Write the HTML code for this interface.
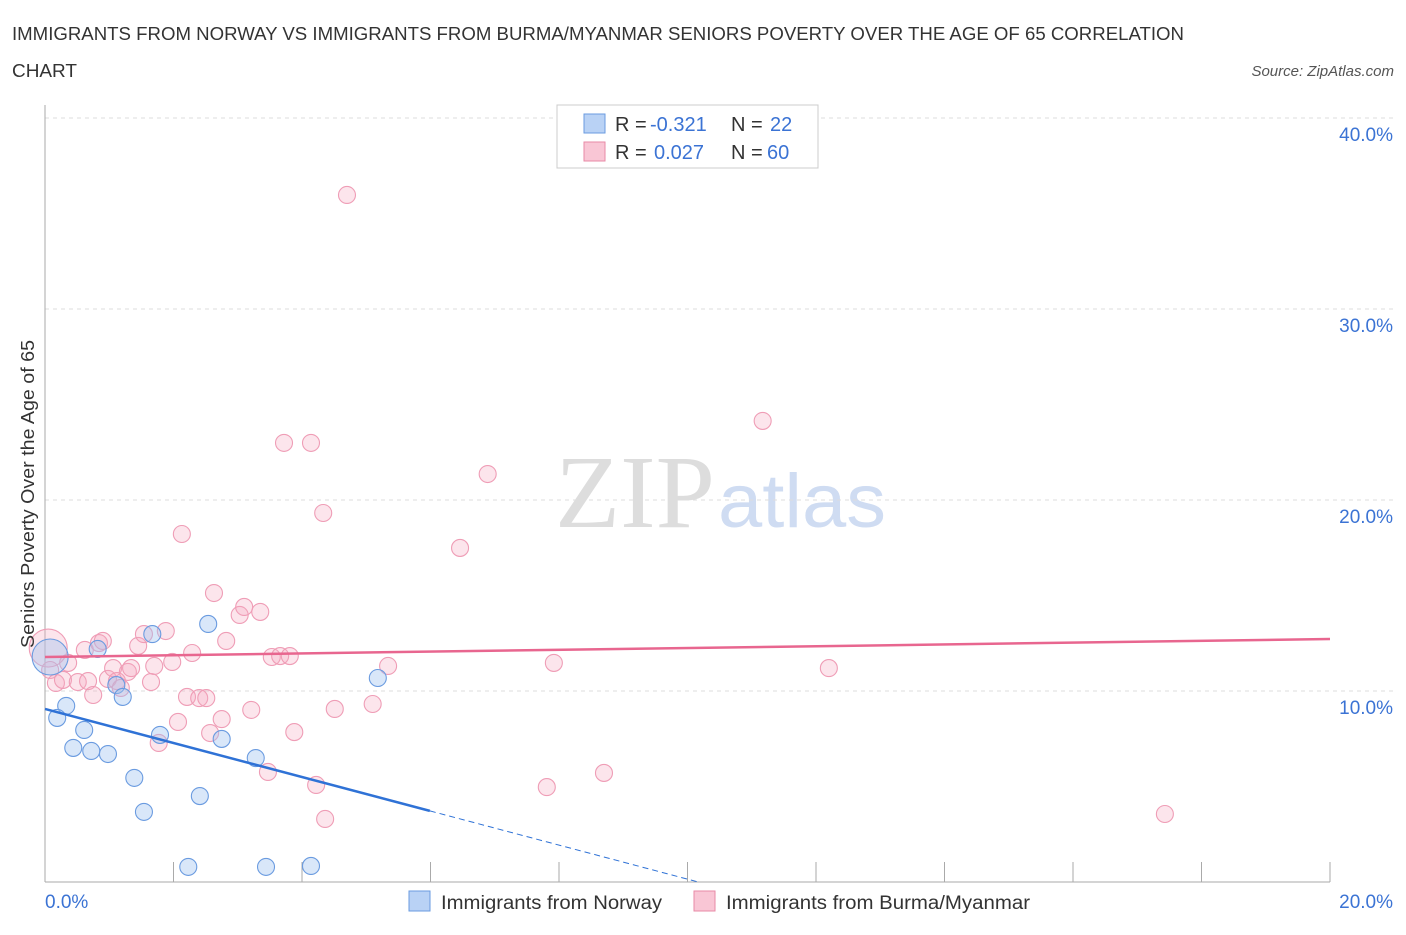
<!DOCTYPE html>
<html><head><meta charset="utf-8"><style>
body{margin:0;background:#fff;font-family:"Liberation Sans",sans-serif;}
</style></head><body>
<svg width="1406" height="930" xmlns="http://www.w3.org/2000/svg" style="font-family:'Liberation Sans',sans-serif">
<text x="12" y="40" font-size="18" fill="#333" textLength="1172" lengthAdjust="spacingAndGlyphs">IMMIGRANTS FROM NORWAY VS IMMIGRANTS FROM BURMA/MYANMAR SENIORS POVERTY OVER THE AGE OF 65 CORRELATION</text>
<text x="12" y="77" font-size="18" fill="#333" textLength="65" lengthAdjust="spacingAndGlyphs">CHART</text>
<text x="1394" y="76" font-size="15" fill="#555" font-style="italic" text-anchor="end">Source: ZipAtlas.com</text>
<g>
<text x="555" y="527" font-size="104" fill="#ddd" font-family="Liberation Serif" textLength="160" lengthAdjust="spacingAndGlyphs">ZIP</text>
<text x="718" y="527" font-size="76" fill="#cfdcf2" textLength="168" lengthAdjust="spacingAndGlyphs">atlas</text>
</g>
<g id="grid"></g>
<g id="axes"></g>
<g id="marks"></g>
<text transform="translate(34,494) rotate(-90)" font-size="18" fill="#333" text-anchor="middle" textLength="308" lengthAdjust="spacingAndGlyphs">Seniors Poverty Over the Age of 65</text>
<text x="45" y="908" font-size="19" fill="#3b73d4">0.0%</text>
<text x="1393" y="908" font-size="19" fill="#3b73d4" text-anchor="end">20.0%</text>
<g>
<rect x="557" y="105" width="261" height="63" fill="#fff" stroke="#ccc"/>
<rect x="584" y="114" width="21" height="19" fill="#b9d2f5" stroke="#6a9be0"/>
<rect x="584" y="142" width="21" height="19" fill="#f9c6d5" stroke="#e88aa6"/>
<text x="615" y="131" font-size="20" fill="#333">R =</text>
<text x="650" y="131" font-size="20" fill="#3b73d4">-0.321</text>
<text x="731" y="131" font-size="20" fill="#333">N =</text>
<text x="770" y="131" font-size="20" fill="#3b73d4">22</text>
<text x="615" y="159" font-size="20" fill="#333">R =</text>
<text x="654" y="159" font-size="20" fill="#3b73d4">0.027</text>
<text x="731" y="159" font-size="20" fill="#333">N =</text>
<text x="767" y="159" font-size="20" fill="#3b73d4">60</text>
</g>
<g>
<rect x="409" y="891" width="21" height="20" fill="#b9d2f5" stroke="#6a9be0"/>
<text x="441" y="909" font-size="19" fill="#333" textLength="221" lengthAdjust="spacingAndGlyphs">Immigrants from Norway</text>
<rect x="694" y="891" width="21" height="20" fill="#f9c6d5" stroke="#e88aa6"/>
<text x="726" y="909" font-size="19" fill="#333" textLength="304" lengthAdjust="spacingAndGlyphs">Immigrants from Burma/Myanmar</text>
</g>
</svg>
<script>
const yTicks=[10,20,30,40];
const yTickLabels=["10.0%","20.0%","30.0%","40.0%"];
const xTicks=[2,4,6,8,10,12,14,16,18,20];
const norwayX=[0.33,0.19,0.44,0.61,0.72,0.98,0.82,1.11,1.21,1.39,1.54,1.67,1.79,2.23,2.41,2.54,2.75,3.28,3.44,4.14,5.18];
const norwayY=[9.22,8.59,7.02,7.96,6.86,6.70,12.20,10.31,9.69,5.45,3.67,12.98,7.70,0.79,4.50,13.51,7.49,6.49,0.79,0.84,10.68];
const burmaX=[0.08,0.17,0.28,0.36,0.51,0.62,0.67,0.75,0.84,0.90,0.98,1.06,1.12,1.18,1.29,1.34,1.45,1.54,1.65,1.70,1.77,1.88,1.98,2.07,2.13,2.21,2.29,2.40,2.51,2.57,2.63,2.75,2.82,3.03,3.10,3.21,3.35,3.47,3.53,3.66,3.72,3.81,3.88,4.14,4.22,4.33,4.36,4.51,4.70,5.10,5.34,6.46,6.89,7.81,7.92,8.70,11.17,12.20,17.43];
const burmaY=[11.10,10.42,10.58,11.47,10.47,12.15,10.52,9.79,12.51,12.62,10.63,11.20,10.52,10.16,11.00,11.20,12.36,12.98,10.47,11.31,7.28,13.14,11.52,8.38,18.22,9.69,11.99,9.63,9.63,7.80,15.13,8.53,12.62,13.98,14.40,9.01,14.14,5.76,11.78,11.83,22.99,11.83,7.85,22.99,5.08,19.32,3.30,9.06,35.97,9.32,11.31,17.49,21.36,4.97,11.47,5.71,24.14,11.20,3.56];
const bigNorway=[0.08,11.78];
const bigBurma=[0.05,12.25];
const norwayTrend=[9.06,-0.891];
const burmaTrend=[11.78,0.047];
const NS="http://www.w3.org/2000/svg";
const X=v=>45+v*64.25, Y=v=>882-v*19.1;
function mk(t,a,p){const e=document.createElementNS(NS,t);for(const k in a)e.setAttribute(k,a[k]);p.appendChild(e);return e;}
const grid=document.getElementById('grid'),axes=document.getElementById('axes'),marks=document.getElementById('marks');
yTicks.forEach((t,i)=>{
 const l=mk('line',{x1:45,x2:1393,y1:Y(t),y2:Y(t),stroke:'#ddd','stroke-dasharray':'4,4'},grid);
 
 
 const tx=mk('text',{x:1393,y:Y(t)+23,'font-size':19,fill:'#3b73d4','text-anchor':'end'},grid);
 tx.textContent=yTickLabels[i];
 
 
});
const ax=mk('line',{x1:45,x2:45,y1:105,y2:882,stroke:'#aaa'},axes);


const bx=mk('line',{x1:45,x2:1330,y1:882,y2:882,stroke:'#aaa'},axes);


xTicks.forEach(t=>{const l=mk('line',{x1:X(t),x2:X(t),y1:862,y2:882,stroke:'#aaa'},axes);
 
 });
function dot(x,y,r,c,name){const d=mk('circle',{cx:X(x),cy:Y(y),r:r,fill:c[0],stroke:c[1],'stroke-width':1.1},marks);
 
 }
const pc=['rgba(246,168,193,0.3)','#ef9db6'],bc=['rgba(160,195,240,0.4)','#6a9be0'];
dot(bigBurma[0],bigBurma[1],19,pc,'burma-point-large');
burmaX.forEach((x,i)=>dot(x,burmaY[i],8.5,pc,'burma-point'));
dot(bigNorway[0],bigNorway[1],18,bc,'norway-point-large');
norwayX.forEach((x,i)=>dot(x,norwayY[i],8.5,bc,'norway-point'));
const pl=mk('line',{x1:X(0),y1:Y(burmaTrend[0]),x2:X(20),y2:Y(burmaTrend[0]+20*burmaTrend[1]),stroke:'#e8668f','stroke-width':2.5},marks);


const xe=5.99, x0=-norwayTrend[0]/norwayTrend[1];
const nl=mk('line',{x1:X(0),y1:Y(norwayTrend[0]),x2:X(xe),y2:Y(norwayTrend[0]+xe*norwayTrend[1]),stroke:'#2f72d6','stroke-width':2.5},marks);


const nd=mk('line',{x1:X(xe),y1:Y(norwayTrend[0]+xe*norwayTrend[1]),x2:X(x0),y2:Y(0),stroke:'#2f72d6','stroke-width':1,'stroke-dasharray':'6,4'},marks);


</script>
</body></html>
